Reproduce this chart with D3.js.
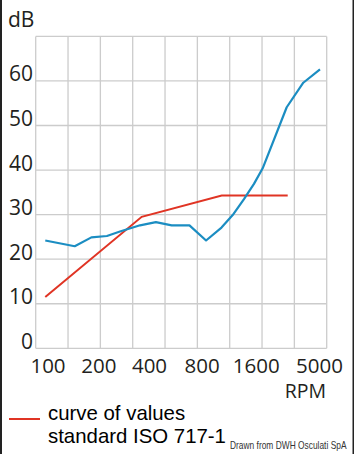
<!DOCTYPE html>
<html>
<head>
<meta charset="utf-8">
<script src="https://cdn.jsdelivr.net/npm/d3@7"></script>
<style>
  html, body { margin: 0; padding: 0; background: #fff; }
  svg { display: block; }
</style>
</head>
<body>
<div id="chart"></div>
<script>
'use strict';

// x ticks (RPM) and y ticks (dB)
var rpmTicks = [100, 200, 400, 800, 1600, 5000];
var dbTicks = [0, 10, 20, 30, 40, 50, 60];

// measured curve (blue)
var measuredRpm = [97, 145, 182, 225, 269, 354, 438, 539, 681, 846, 1031, 1190, 1375, 1563, 1811, 2793, 3767, 5090];
var measuredDb = [24.2, 22.9, 24.9, 25.2, 26.2, 27.6, 28.3, 27.6, 27.6, 24.2, 27.1, 29.9, 33.5, 36.9, 40.4, 54.1, 59.6, 62.6];

// ISO 717-1 reference curve (red)
var isoRpm = [97, 362, 1034, 2844];
var isoDb = [11.5, 29.5, 34.3, 34.3];

var legendLines = ['curve of values', 'standard ISO 717-1'];

var width = 354;
var height = 454;
var plot = { left: 35.7, right: 326.7, top: 36.4, bottom: 348.3 };
var blue = '#1b8dc2';
var red = '#e03424';
var gridColor = '#cccccc';
var axisFont = '"Open Sans", sans-serif';

var svg = d3.select('#chart')
  .append('svg')
  .attr('width', width)
  .attr('height', height);

svg.append('rect')
  .attr('width', width)
  .attr('height', height)
  .attr('fill', '#fff');

// side borders
svg.append('rect').attr('x', 0).attr('y', 0).attr('width', 2).attr('height', height).attr('fill', '#222');
svg.append('rect').attr('x', width - 1.5).attr('y', 0).attr('width', 1.5).attr('height', height).attr('fill', '#222');

var y = d3.scaleLinear()
  .domain([0, 70])
  .range([plot.bottom, plot.top]);

// the labels sit unevenly under the grid, so the RPM scale is piecewise
var x = d3.scaleLog()
  .domain(rpmTicks)
  .range([47.5, 98.3, 149, 201.7, 255.8, 319]);

// grid columns are evenly spaced
var gridX = d3.scaleLinear()
  .domain([0, 9])
  .range([plot.left, plot.right]);

var grid = svg.append('g');

grid.selectAll('line.h')
  .data(d3.range(0, 71, 10)).enter()
  .append('line')
  .attr('class', 'h')
  .attr('x1', plot.left)
  .attr('x2', plot.right)
  .attr('y1', function (d) { return y(d); })
  .attr('y2', function (d) { return y(d); })
  .attr('stroke', gridColor)
  .attr('stroke-width', 1.3);

grid.selectAll('line.v')
  .data(d3.range(0, 10)).enter()
  .append('line')
  .attr('class', 'v')
  .attr('y1', plot.top)
  .attr('y2', plot.bottom)
  .attr('x1', function (d) { return gridX(d); })
  .attr('x2', function (d) { return gridX(d); })
  .attr('stroke', gridColor)
  .attr('stroke-width', 1.3);

// y axis labels
var yAxis = svg.append('g')
  .attr('transform', 'translate(33,0)')
  .call(d3.axisLeft(y).tickValues(dbTicks).tickSize(0).tickPadding(0).tickFormat(d3.format('d')));
yAxis.select('.domain').remove();
yAxis.selectAll('text')
  .attr('dy', 0)
  .attr('font-family', axisFont)
  .attr('font-size', 21)
  .attr('fill', '#231f20');

// x axis labels
var xAxis = svg.append('g')
  .attr('transform', 'translate(0,373)')
  .call(d3.axisBottom(x).tickValues(rpmTicks).tickSize(0).tickPadding(0).tickFormat(d3.format('d')));
xAxis.select('.domain').remove();
xAxis.selectAll('text')
  .attr('y', 0)
  .attr('dy', 0)
  .attr('font-family', axisFont)
  .attr('font-size', 20.5)
  .attr('fill', '#231f20');

svg.append('text')
  .text('dB')
  .attr('x', 8)
  .attr('y', 27)
  .attr('font-family', axisFont)
  .attr('font-size', 21)
  .attr('fill', '#231f20');

svg.append('text')
  .text('RPM')
  .attr('x', 326)
  .attr('y', 398)
  .attr('text-anchor', 'end')
  .attr('font-family', axisFont)
  .attr('font-size', 19.5)
  .attr('fill', '#231f20');

var line = d3.line()
  .x(function (d) { return x(d[0]); })
  .y(function (d) { return y(d[1]); });

svg.append('path')
  .datum(d3.zip(isoRpm, isoDb))
  .attr('d', line)
  .attr('fill', 'none')
  .attr('stroke', red)
  .attr('stroke-width', 2);

svg.append('path')
  .datum(d3.zip(measuredRpm, measuredDb))
  .attr('d', line)
  .attr('fill', 'none')
  .attr('stroke', blue)
  .attr('stroke-width', 2.2)
  .attr('stroke-linejoin', 'round');

// legend
svg.append('line')
  .attr('x1', 9)
  .attr('x2', 40)
  .attr('y1', 419)
  .attr('y2', 419)
  .attr('stroke', red)
  .attr('stroke-width', 2);

svg.selectAll('text.legend')
  .data(legendLines).enter()
  .append('text')
  .attr('class', 'legend')
  .text(function (d) { return d; })
  .attr('x', 48)
  .attr('y', function (d, i) { return 420 + i * 23; })
  .attr('font-family', '"Liberation Sans", Arial, sans-serif')
  .attr('font-size', 20.4)
  .attr('fill', '#000');

// credit, squeezed horizontally like a condensed face
svg.append('text')
  .text('Drawn from DWH Osculati SpA')
  .attr('transform', 'translate(230,449) scale(0.84,1)')
  .attr('font-family', '"Liberation Sans", Arial, sans-serif')
  .attr('font-size', 10)
  .attr('fill', '#333');
</script>
</body>
</html>
